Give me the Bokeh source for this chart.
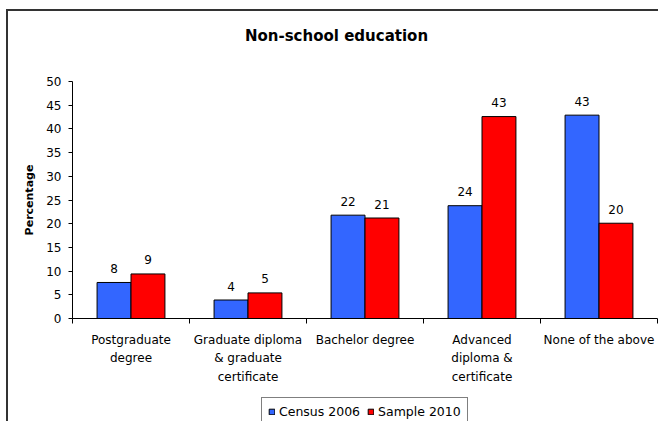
from bokeh.plotting import figure
from bokeh.models import Range1d, FixedTicker, Legend, LegendItem, ColumnDataSource, Label
from bokeh.layouts import column
from bokeh.transform import dodge
from bokeh.embed import file_html
from bokeh.resources import INLINE

# ---- data ----
categories = ["Postgraduate\ndegree",
              "Graduate diploma\n& graduate\ncertificate",
              "Bachelor degree",
              "Advanced\ndiploma &\ncertificate",
              "None of the above"]
census_2006 = [7.6, 3.9, 21.8, 23.8, 42.9]
sample_2010 = [9.4, 5.4, 21.2, 42.6, 20.1]
series_names = ["Census 2006", "Sample 2010"]
y_ticks = [0, 5, 10, 15, 20, 25, 30, 35, 40, 45, 50]
title_text = "Non-school education"
y_label = "Percentage"

FONT = "DejaVu Sans"
BLUE = "#3366FF"
RED = "#FF0000"
W = 650

n = len(categories)
pos = [i + 0.5 for i in range(n)]
src = ColumnDataSource(dict(
    x=pos,
    census=census_2006,
    sample=sample_2010,
    census_lbl=["%d" % round(v) for v in census_2006],
    sample_lbl=["%d" % round(v) for v in sample_2010],
))

# ---- title strip ----
p0 = figure(width=W, height=48, x_axis_type=None, y_axis_type=None,
            x_range=Range1d(0, 1), y_range=Range1d(0, 1),
            output_backend="svg", toolbar_location=None, min_border=0)
p0.outline_line_color = None
p0.add_layout(Label(x=264, y=24, x_units="screen", y_units="screen", text=title_text,
                    text_align="center", text_baseline="middle",
                    text_font=FONT, text_font_size="15px", text_font_style="bold",
                    text_color="black"))

# ---- main chart ----
p = figure(width=W, height=333,
           x_range=Range1d(0, n), y_range=Range1d(0, 50),
           output_backend="svg", toolbar_location=None,
           min_border_left=64, min_border_right=1,
           min_border_top=22, min_border_bottom=74)
p.outline_line_color = None
p.xgrid.visible = False
p.ygrid.visible = False

bw = 0.29
r1 = p.vbar(x=dodge("x", -bw / 2, range=p.x_range), top="census", width=bw, source=src,
            fill_color=BLUE, line_color="black", line_width=1)
r2 = p.vbar(x=dodge("x", bw / 2, range=p.x_range), top="sample", width=bw, source=src,
            fill_color=RED, line_color="black", line_width=1)

p.text(x=dodge("x", -bw / 2, range=p.x_range), y="census", text="census_lbl", source=src,
       text_align="center", text_baseline="middle", y_offset=-14,
       text_font={"value": FONT}, text_font_size="12px", text_color="black")
p.text(x=dodge("x", bw / 2, range=p.x_range), y="sample", text="sample_lbl", source=src,
       text_align="center", text_baseline="middle", y_offset=-14,
       text_font={"value": FONT}, text_font_size="12px", text_color="black")

ya = p.yaxis[0]
ya.ticker = FixedTicker(ticks=y_ticks, minor_ticks=[])
ya.major_tick_in = 0
ya.major_tick_out = 4
ya.minor_tick_in = 0
ya.minor_tick_out = 0
ya.major_label_standoff = 7
ya.major_label_text_font = FONT
ya.major_label_text_font_size = "12px"
ya.major_label_text_color = "black"
ya.axis_line_color = "black"
ya.major_tick_line_color = "black"
ya.axis_label = y_label
ya.axis_label_text_font = FONT
ya.axis_label_text_font_size = "11px"
ya.axis_label_text_font_style = "bold"
ya.axis_label_text_color = "black"
ya.axis_label_standoff = 7

xa = p.xaxis[0]
xa.ticker = FixedTicker(ticks=pos, minor_ticks=list(range(n + 1)))
xa.major_tick_in = 0
xa.major_tick_out = 0
xa.minor_tick_in = 0
xa.minor_tick_out = 5
xa.minor_tick_line_color = "black"
xa.axis_line_color = "black"
xa.major_label_overrides = {pv: c for pv, c in zip(pos, categories)}
xa.major_label_standoff = 9
xa.major_label_text_font = FONT
xa.major_label_text_font_size = "12px"
xa.major_label_text_color = "black"
xa.major_label_text_line_height = 1.35

# ---- legend strip (swatches use the same data, drawn out of view) ----
p2 = figure(width=W, height=30, x_axis_type=None, y_axis_type=None,
            x_range=Range1d(100, 101), y_range=Range1d(100, 101),
            output_backend="svg", toolbar_location=None, min_border=0)
p2.outline_line_color = None
k1 = p2.vbar(x="x", top="census", width=bw, source=src,
             fill_color=BLUE, line_color="black", line_width=1)
k2 = p2.vbar(x="x", top="sample", width=bw, source=src,
             fill_color=RED, line_color="black", line_width=1)
legend = Legend(items=[LegendItem(label=series_names[0], renderers=[k1]),
                       LegendItem(label=series_names[1], renderers=[k2])],
                orientation="horizontal", location=(189, -4))
legend.glyph_width = 7
legend.glyph_height = 7
legend.label_text_font = FONT
legend.label_text_font_size = "12.5px"
legend.label_text_color = "black"
legend.label_standoff = 4
legend.spacing = 7
legend.padding = 6
legend.margin = 0
legend.border_line_color = "black"
legend.border_line_width = 1
legend.background_fill_color = "white"
p2.add_layout(legend, "center")

layout = column(p0, p, p2, spacing=0,
                styles={"margin-left": "6px", "margin-top": "9px",
                        "border-left": "2px solid #333333",
                        "border-top": "2px solid #333333"})
open("out.html", "w").write(file_html(layout, INLINE))
